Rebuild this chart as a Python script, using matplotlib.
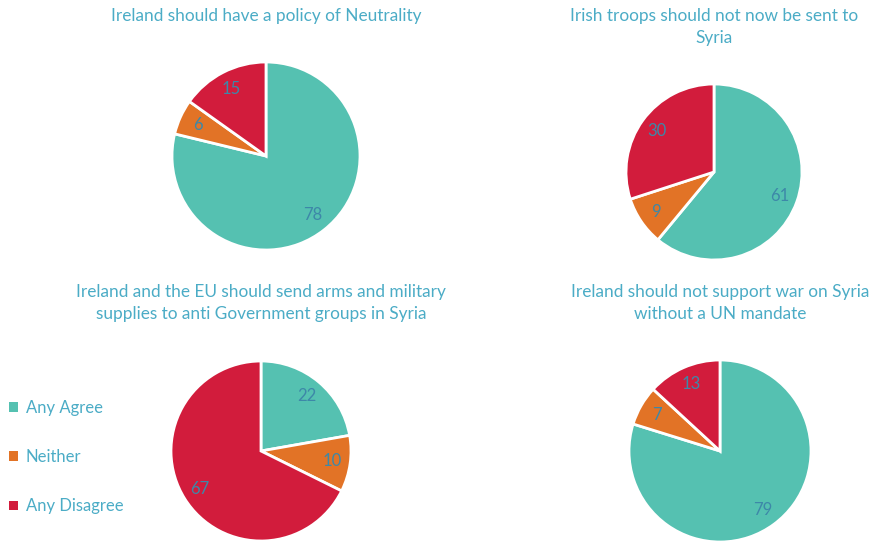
import matplotlib.pyplot as plt
from matplotlib.patches import Patch

plt.rcParams['font.family'] = ['Lato', 'DejaVu Sans']

categories = ["Any Agree", "Neither", "Any Disagree"]
colors = ["#55C1B1", "#E27326", "#D21C3C"]

titles = [
    "Ireland should have a policy of Neutrality",
    "Irish troops should not now be sent to\nSyria",
    "Ireland and the EU should send arms and military\nsupplies to anti Government groups in Syria",
    "Ireland should not support war on Syria\nwithout a UN mandate",
]
values = [
    [78, 6, 15],
    [61, 9, 30],
    [22, 10, 67],
    [79, 7, 13],
]

W, H = 872, 541
# pie centres / radii / title centres in pixels (top-left origin)
centres = [(266, 156, 94), (714, 172, 88), (261, 451, 90), (720, 451, 91)]
title_pos = [(266, 16), (714, 27), (261, 303), (720, 303)]

title_col = "#4BACC6"
label_col = "#3D88A8"

fig = plt.figure(figsize=(W / 100, H / 100), dpi=100)

for vals, (cx, cy, r), ttl, (tx, ty) in zip(values, centres, titles, title_pos):
    ax = fig.add_axes([(cx - r) / W, 1 - (cy + r) / H, 2 * r / W, 2 * r / H])
    wedges, texts = ax.pie(vals, colors=colors, startangle=90, counterclock=False,
                           labels=[str(v) for v in vals], labeldistance=0.8,
                           wedgeprops=dict(edgecolor="white", linewidth=2),
                           textprops=dict(color=label_col, fontsize=12))
    for t in texts:
        t.set_ha("center")
        t.set_va("center")
    ax.set_xlim(-1, 1)
    ax.set_ylim(-1, 1)
    ax.set_aspect("equal")
    ax.axis("off")
    fig.text(tx / W, 1 - ty / H, ttl, ha="center", va="center", color=title_col,
             fontsize=12.4, linespacing=1.5)

handles = [Patch(facecolor=c, edgecolor="none") for c in colors]
fig.legend(handles, categories, loc="center left", bbox_to_anchor=(0.003, 1 - 457 / H),
           frameon=False, labelcolor=title_col, fontsize=12, handlelength=0.5,
           handleheight=0.5, handletextpad=0.5, labelspacing=2.0, borderpad=0,
           borderaxespad=0.4)

fig.savefig("out.png", dpi=100)
